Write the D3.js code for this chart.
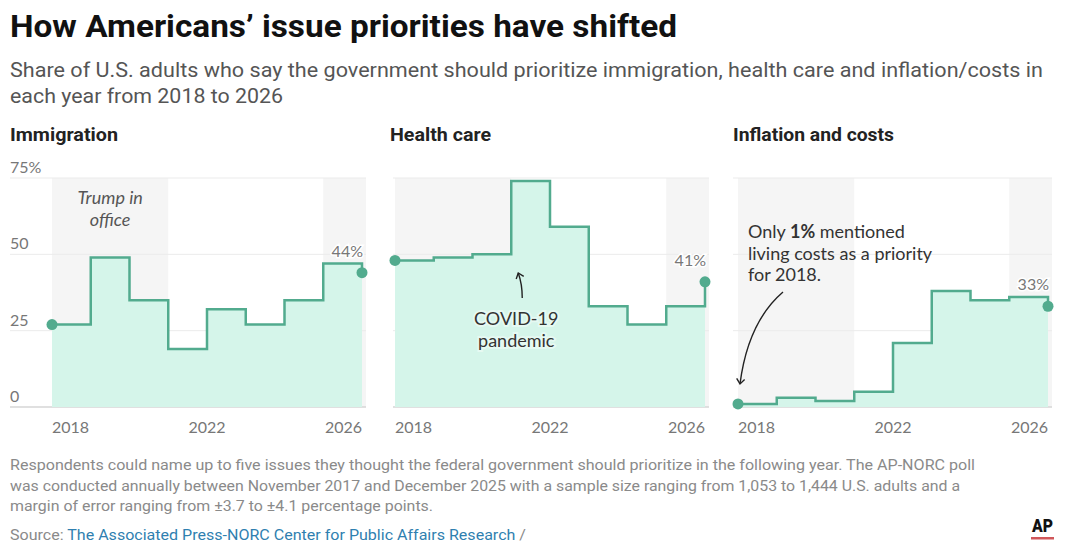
<!DOCTYPE html>
<html>
<head>
<meta charset="utf-8">
<script src="https://cdn.jsdelivr.net/npm/d3@7"></script>
<style>
  body { margin: 0; background: #fff; }
  svg { display: block; }
</style>
</head>
<body>
<svg id="chart" width="1080" height="553"></svg>
<script>
// Survey years (each poll asks about priorities for the coming year)
var years = [2018, 2019, 2020, 2021, 2022, 2023, 2024, 2025, 2026];
var immigration = [27, 49, 35, 19, 32, 27, 35, 47, 44];
var healthCare = [48, 49, 50, 74, 59, 33, 27, 33, 41];
var inflation = [1, 3, 2, 5, 21, 38, 35, 36, 33];

var yTicks = [0, 25, 50, 75];
var xTickYears = [2018, 2022, 2026];
// Trump in office (shaded)
var trumpSpans = [[2018, 2021], [2025, 2026]];

var panelTitles = ['Immigration', 'Health care', 'Inflation and costs'];

var svg = d3.select('#chart');
var headFont = 'Roboto, "Liberation Sans", sans-serif';
var bodyFont = 'Lato, "Open Sans", sans-serif';

var lineColor = '#52ab8e';
var fillColor = '#d5f5ea';
var bandColor = '#f5f5f5';

var y = d3.scaleLinear().domain([0, 75]).range([407, 178]);

// header
function fitText(sel, w) {
	sel.attr('textLength', w).attr('lengthAdjust', 'spacingAndGlyphs');
	return sel;
}

fitText(svg.append('text')
	.attr('x', 10).attr('y', 37)
	.attr('font-family', headFont).attr('font-weight', 700)
	.attr('font-size', 31).attr('fill', '#111')
	.text('How Americans\u2019 issue priorities have shifted'), 667);

fitText(svg.append('text')
	.attr('x', 10).attr('y', 77)
	.attr('font-family', headFont).attr('font-size', 20).attr('fill', '#555')
	.text('Share of U.S. adults who say the government should prioritize immigration, health care and inflation/costs in'), 1033);

fitText(svg.append('text')
	.attr('x', 10).attr('y', 103)
	.attr('font-family', headFont).attr('font-size', 20).attr('fill', '#555')
	.text('each year from 2018 to 2026'), 273);

// panels
var panels = [
	{ data: immigration, x0: 52, x1: 362, title: panelTitles[0], titleX: 10, titleW: 108, gridX: 10, yLabels: true },
	{ data: healthCare, x0: 395, x1: 705, title: panelTitles[1], titleX: 390, titleW: 101, gridX: 393, yLabels: false },
	{ data: inflation, x0: 738, x1: 1048, title: panelTitles[2], titleX: 733, titleW: 161, gridX: 733, yLabels: false }
];

var defs = svg.append('defs');
defs.append('marker')
	.attr('id', 'arrow')
	.attr('viewBox', '-6 -6 12 12')
	.attr('refX', 0).attr('refY', 0)
	.attr('markerWidth', 12).attr('markerHeight', 12)
	.attr('markerUnits', 'userSpaceOnUse')
	.attr('orient', 'auto')
	.append('path')
	.attr('d', 'M-5,-4L0,0L-5,4')
	.attr('fill', 'none')
	.attr('stroke', '#222')
	.attr('stroke-width', 1.4);

panels.forEach(function(p, idx) {
	var g = svg.append('g');
	var x = d3.scaleLinear().domain([2018, 2026]).range([p.x0, p.x1]);
	p.x = x;

	fitText(g.append('text')
		.attr('x', p.titleX).attr('y', 141)
		.attr('font-family', headFont).attr('font-weight', 700)
		.attr('font-size', 18).attr('fill', '#222')
		.text(p.title), p.titleW);

	// Trump-era bands
	g.selectAll('rect.band')
		.data(trumpSpans)
		.enter()
		.append('rect')
		.attr('class', 'band')
		.attr('x', function(d) { return x(d[0]); })
		.attr('y', y(75))
		.attr('width', function(d) { return x(d[1]) - x(d[0]) + (d[1] === 2026 ? 4 : 0); })
		.attr('height', y(0) - y(75))
		.attr('fill', bandColor);

	// gridlines
	g.selectAll('line.grid')
		.data(yTicks)
		.enter()
		.append('line')
		.attr('x1', p.gridX)
		.attr('x2', p.x1 + 4)
		.attr('y1', function(d) { return y(d); })
		.attr('y2', function(d) { return y(d); })
		.attr('stroke', function(d) { return d === 0 ? '#d6d6d6' : '#ebebeb'; })
		.attr('stroke-width', function(d) { return d === 0 ? 1.5 : 1; });

	var pts = years.map(function(yr, i) { return [yr, p.data[i]]; });

	var area = d3.area()
		.curve(d3.curveStepAfter)
		.x(function(d) { return x(d[0]); })
		.y0(y(0))
		.y1(function(d) { return y(d[1]); });

	var line = d3.line()
		.curve(d3.curveStepAfter)
		.x(function(d) { return x(d[0]); })
		.y(function(d) { return y(d[1]); });

	g.append('path').datum(pts).attr('d', area).attr('fill', fillColor);
	g.append('path').datum(pts).attr('d', line)
		.attr('fill', 'none').attr('stroke', lineColor).attr('stroke-width', 2.5);

	g.selectAll('circle')
		.data([pts[0], pts[pts.length - 1]])
		.enter()
		.append('circle')
		.attr('cx', function(d) { return x(d[0]); })
		.attr('cy', function(d) { return y(d[1]); })
		.attr('r', 5.5)
		.attr('fill', lineColor);

	// final value label
	var last = pts[pts.length - 1];
	g.append('text')
		.attr('x', x(last[0]) + 1)
		.attr('y', y(last[1]) - 16)
		.attr('text-anchor', 'end')
		.attr('font-family', bodyFont).attr('font-size', 16).attr('fill', '#777')
		.attr('stroke', '#fff').attr('stroke-width', 3).attr('paint-order', 'stroke')
		.text(last[1] + '%');

	// x axis labels
	g.selectAll('text.xtick')
		.data(xTickYears)
		.enter()
		.append('text')
		.attr('class', 'xtick')
		.attr('x', function(d) { return x(d); })
		.attr('y', 433)
		.attr('text-anchor', function(d, i) { return i === 0 ? 'start' : (i === xTickYears.length - 1 ? 'end' : 'middle'); })
		.attr('font-family', bodyFont).attr('font-size', 16).attr('fill', '#777')
		.text(function(d) { return d; });

	if (p.yLabels) {
		g.selectAll('text.ytick')
			.data(yTicks)
			.enter()
			.append('text')
			.attr('x', 10)
			.attr('y', function(d) { return y(d) - 5; })
			.attr('font-family', bodyFont).attr('font-size', 16).attr('fill', '#777')
			.text(function(d) { return d === 75 ? d + '%' : d; });
	}
});

// annotations
var p1 = panels[0], p2 = panels[1], p3 = panels[2];

var trump = svg.append('text')
	.attr('text-anchor', 'middle')
	.attr('font-family', bodyFont).attr('font-style', 'italic')
	.attr('font-size', 18).attr('fill', '#555');
trump.append('tspan').attr('x', (p1.x(2018) + p1.x(2021)) / 2).attr('y', 204).text('Trump in');
trump.append('tspan').attr('x', (p1.x(2018) + p1.x(2021)) / 2).attr('y', 226).text('office');

var covidX = p2.x(2021) + 5;
svg.append('path')
	.attr('d', 'M' + (covidX + 6) + ',298 Q' + (covidX + 6) + ',284 ' + (covidX + 2) + ',273')
	.attr('fill', 'none').attr('stroke', '#222').attr('stroke-width', 1.4)
	.attr('marker-end', 'url(#arrow)');

var covid = svg.append('text')
	.attr('text-anchor', 'middle')
	.attr('font-family', bodyFont).attr('font-size', 18).attr('fill', '#333')
	.attr('stroke', '#e6f9f2').attr('stroke-width', 4).attr('paint-order', 'stroke');
covid.append('tspan').attr('x', covidX).attr('y', 325).text('COVID-19');
covid.append('tspan').attr('x', covidX).attr('y', 347).text('pandemic');

var note = svg.append('text')
	.attr('font-family', bodyFont).attr('font-size', 18).attr('fill', '#333');
var l1 = note.append('tspan').attr('x', 748).attr('y', 238);
l1.append('tspan').text('Only ');
l1.append('tspan').attr('font-weight', 700).text('1%');
l1.append('tspan').text(' mentioned');
note.append('tspan').attr('x', 748).attr('y', 260).text('living costs as a priority');
note.append('tspan').attr('x', 748).attr('y', 281).text('for 2018.');

var tipX = p3.x(2018) + 2, tipY = y(inflation[0]) - 20;
svg.append('path')
	.attr('d', 'M783,292 Q748,322 ' + tipX + ',' + tipY)
	.attr('fill', 'none').attr('stroke', '#222').attr('stroke-width', 1.4)
	.attr('marker-end', 'url(#arrow)');

// footer
var footLines = [
	'Respondents could name up to five issues they thought the federal government should prioritize in the following year. The AP-NORC poll',
	'was conducted annually between November 2017 and December 2025 with a sample size ranging from 1,053 to 1,444 U.S. adults and a',
	'margin of error ranging from \u00b13.7 to \u00b14.1 percentage points.'
];
var footW = [965, 950, 423];
footLines.forEach(function(t, i) {
	fitText(svg.append('text')
		.attr('x', 10).attr('y', 470 + i * 20.5)
		.attr('font-family', headFont).attr('font-size', 15).attr('fill', '#8a8a8a')
		.text(t), footW[i]);
});

var src = svg.append('text')
	.attr('x', 10).attr('y', 540)
	.attr('font-family', headFont).attr('font-size', 15).attr('fill', '#8a8a8a');
src.append('tspan').text('Source: ');
src.append('tspan').attr('fill', '#2f7fb0').text('The Associated Press-NORC Center for Public Affairs Research');
src.append('tspan').text(' /');
fitText(src, 516);

// AP logo
fitText(svg.append('text')
	.attr('x', 1032).attr('y', 532)
	.attr('font-family', headFont).attr('font-weight', 900)
	.attr('font-size', 19).attr('fill', '#111')
	.text('AP'), 21);
svg.append('rect')
	.attr('x', 1031).attr('y', 537).attr('width', 23).attr('height', 2.5)
	.attr('fill', '#d0575a');
</script>
</body>
</html>
